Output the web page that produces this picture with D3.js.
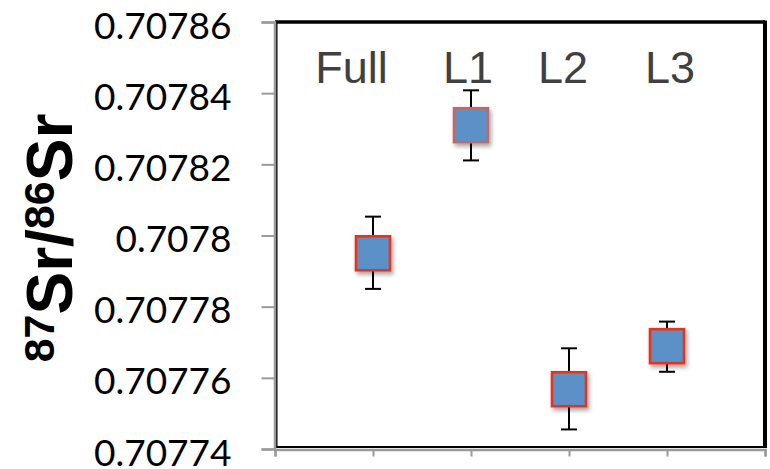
<!DOCTYPE html>
<html>
<head>
<meta charset="utf-8">
<script src="https://cdn.jsdelivr.net/npm/d3@7"></script>
<style>
  html, body { margin: 0; padding: 0; background: #fff; }
  svg { display: block; }
</style>
</head>
<body>
<svg id="chart" width="770" height="469"></svg>
<script>
// ---- data ----
const categories = ["Full", "L1", "L2", "L3"];
const xPositions = [1, 2, 3, 4];
const values     = [0.707795, 0.707831, 0.7077568, 0.7077689];
const errUpper   = [0.0000103, 0.0000098, 0.0000115, 0.0000069];
const errLower   = [0.0000100, 0.0000099, 0.0000113, 0.0000072];
const strokeColors = ["#e8331f", "#c96562", "#e8331f", "#e8331f"];
const labelX     = [0.78, 1.97, 2.94, 4.03];   // annotation anchors, in x-data units
const yTicks     = [0.70774, 0.70776, 0.70778, 0.7078, 0.70782, 0.70784, 0.70786];
const yTickLabels = ["0.70774", "0.70776", "0.70778", "0.7078", "0.70782", "0.70784", "0.70786"];
const xTicks     = [0, 1, 2, 3, 4, 5];

// ---- layout ----
const svg = d3.select("#chart");
const mLeft = 275, mRight = 765, mTop = 22, mBottom = 449;

const x = d3.scaleLinear().domain([0, 5]).range([mLeft, mRight]);
const y = d3.scaleLinear().domain([0.70774, 0.70786]).range([mBottom, mTop]);

const defs = svg.append("defs");
const f = defs.append("filter").attr("id", "shadow")
  .attr("x", "-30%").attr("y", "-30%").attr("width", "170%").attr("height", "170%");
f.append("feDropShadow").attr("dx", 2).attr("dy", 3).attr("stdDeviation", 2.2)
  .attr("flood-color", "#000").attr("flood-opacity", 0.35);

// frame (black)
svg.append("line").attr("x1", mLeft).attr("x2", mRight).attr("y1", mTop).attr("y2", mTop)
  .attr("stroke", "#000").attr("stroke-width", 3.5);
svg.append("line").attr("x1", mRight).attr("x2", mRight).attr("y1", mTop - 1.5).attr("y2", mBottom - 1)
  .attr("stroke", "#000").attr("stroke-width", 4);
svg.append("line").attr("x1", mLeft + 1).attr("x2", mRight).attr("y1", mBottom - 2).attr("y2", mBottom - 2)
  .attr("stroke", "#000").attr("stroke-width", 2);
svg.append("line").attr("x1", mLeft + 1.5).attr("x2", mLeft + 1.5).attr("y1", mTop).attr("y2", mBottom - 1)
  .attr("stroke", "#000").attr("stroke-width", 2);

// y axis (gray)
const yAxis = d3.axisLeft(y).tickValues(yTicks).tickSize(13)
  .tickFormat((d, i) => yTickLabels[i]);
const gy = svg.append("g").attr("transform", `translate(${mLeft - 0.5},0)`).call(yAxis);
gy.select(".domain").attr("stroke", "#9a9a9a").attr("stroke-width", 2.5);
gy.selectAll(".tick line").attr("stroke", "#9a9a9a").attr("stroke-width", 2);
gy.selectAll(".tick text")
  .attr("x", -43).attr("dy", null).attr("y", 16)
  .attr("font-family", "Lato, 'Open Sans', sans-serif")
  .attr("font-size", 37).attr("fill", "#000");

// x axis (gray, no labels)
const xAxis = d3.axisBottom(x).tickValues(xTicks).tickSize(7).tickFormat("");
const gx = svg.append("g").attr("transform", `translate(0,${mBottom + 0.5})`).call(xAxis);
gx.select(".domain").attr("stroke", "#9a9a9a").attr("stroke-width", 2.5);
gx.selectAll(".tick line").attr("stroke", "#9a9a9a").attr("stroke-width", 2);

// y axis title
const title = svg.append("text")
  .attr("transform", `translate(72,238) rotate(-90)`)
  .attr("text-anchor", "middle")
  .attr("font-family", "'Liberation Sans', Arial, sans-serif")
  .attr("font-weight", "bold").attr("fill", "#000");
title.append("tspan").attr("font-size", 43).attr("dy", -18).text("87");
title.append("tspan").attr("font-size", 64).attr("dy", 18).text("Sr/");
title.append("tspan").attr("font-size", 43).attr("dy", -18).text("86");
title.append("tspan").attr("font-size", 64).attr("dy", 18).text("Sr");

// category labels
svg.append("g").selectAll("text").data(categories).join("text")
  .attr("x", (d, i) => x(labelX[i])).attr("y", 83)
  .attr("text-anchor", "middle")
  .attr("font-family", "'Liberation Sans', Arial, sans-serif")
  .attr("font-size", 45).attr("fill", "#404040")
  .text(d => d);

// error bars
const eb = svg.append("g").attr("stroke", "#000").attr("stroke-width", 2);
categories.forEach((c, i) => {
  const cx = x(xPositions[i]);
  const yt = y(values[i] + errUpper[i]), yb = y(values[i] - errLower[i]);
  eb.append("line").attr("x1", cx).attr("x2", cx).attr("y1", yt).attr("y2", yb);
  eb.append("line").attr("x1", cx - 8).attr("x2", cx + 8).attr("y1", yt).attr("y2", yt);
  eb.append("line").attr("x1", cx - 8).attr("x2", cx + 8).attr("y1", yb).attr("y2", yb);
});

// markers
const size = 34;
svg.append("g").selectAll("rect").data(values).join("rect")
  .attr("x", (d, i) => x(xPositions[i]) - size / 2)
  .attr("y", d => y(d) - size / 2)
  .attr("width", size).attr("height", size)
  .attr("fill", "#5b91c8")
  .attr("stroke", (d, i) => strokeColors[i])
  .attr("stroke-width", 2.6)
  .attr("filter", "url(#shadow)");
</script>
</body>
</html>
